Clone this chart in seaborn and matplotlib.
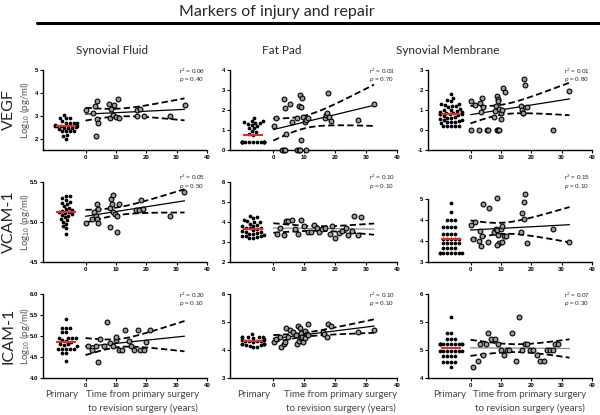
import warnings
import numpy as np
import matplotlib
matplotlib.use('Agg')
import matplotlib.pyplot as plt
import seaborn as sns
from matplotlib.lines import Line2D

warnings.filterwarnings('ignore')

# ---- data (log10 pg/ml) ----
# VEGF
vegf_sf_primary = [3.03, 2.89, 2.89, 2.89, 2.75, 2.67, 2.67, 2.67, 2.67, 2.6, 2.57, 2.57, 2.55,
                   2.55, 2.52, 2.46, 2.46, 2.46, 2.42, 2.31, 2.31, 2.31, 2.31, 2.15, 2.1, 2.0]
vegf_sf_years = [0, 2.5, 3, 3.8, 3.8, 4, 3.5, 7.8, 8.5, 9.3, 10.7, 8.2, 9.1, 9.9, 11, 17, 17.9, 17,
                 19.2, 27.8, 32.6]
vegf_sf_level = [3.27, 3.1, 3.43, 3.63, 2.86, 2.67, 2.1, 3.53, 3.31, 3.46, 3.74, 2.89, 3.03, 2.96,
                 2.91, 3.24, 3.31, 3.0, 3.0, 3.0, 3.46]

vegf_fp_primary = [1.6, 1.45, 1.45, 1.38, 1.35, 1.35, 1.3, 1.25, 1.2, 1.1, 1.1, 0.95, 0.9, 0.8, 0.75,
                   0.4, 0.4, 0.4, 0.4, 0.4, 0.4, 0.4, 0.4, 0.4, 0.4, 0.4, 0.4, 0.4, 0.4]
vegf_fp_years = [0.3, 0.8, 3.8, 3.6, 5.4, 4.0, 6.0, 7.6, 8.4, 9.0, 8.7, 9.2, 9.0, 9.5, 10.1, 10.5,
                 11.2, 16.6, 17.1, 17.4, 17.7, 18.0, 18.8, 27.5, 32.6,
                 2.7, 3.3, 3.8, 7.6, 8.2, 8.7, 10.5]
vegf_fp_level = [1.22, 1.58, 2.12, 2.53, 2.3, 0.8, 1.42, 1.58, 2.2, 2.17, 2.75, 2.58, 0.5, 1.67,
                 1.42, 1.5, 1.58, 1.58, 1.75, 1.87, 2.83, 1.67, 1.47, 1.5, 2.3,
                 0, 0, 0, 0, 0, 0, 0]

vegf_sm_primary = [1.8, 1.6, 1.5, 1.45, 1.3, 1.3, 1.25, 1.2, 1.2, 1.15, 1.05, 1.0, 1.0, 0.95, 0.9,
                   0.9, 0.85, 0.85, 0.8, 0.8, 0.8, 0.78, 0.75, 0.7, 0.65, 0.6, 0.6, 0.55, 0.5, 0.5,
                   0.45, 0.4, 0.4, 0.4, 0.35, 0.2, 0.2, 0.2, 0.2, 0.2]
vegf_sm_years = [0.3, 1.6, 3.0, 3.8, 3.6, 4.1, 8.7, 8.9, 9.0, 8.3, 9.3, 7.9, 7.6, 9.9, 10.2, 10.4,
                 10.6, 11.2, 16.7, 17.0, 17.4, 17.6, 17.8, 18.7, 17.2, 32.4,
                 0.3, 2.7, 5.5, 5.9, 8.7, 9.1, 9.5, 27.1]
vegf_sm_level = [1.44, 1.25, 1.36, 1.6, 0.9, 1.15, 1.72, 1.56, 1.44, 1.2, 1.07, 0.95, 0.67, 0.87,
                 0.57, 1.0, 2.1, 1.9, 1.2, 1.0, 0.87, 2.57, 2.26, 1.16, 0.84, 1.93,
                 0, 0, 0, 0, 0, 0, 0, 0]

# VCAM-1
vcam_sf_primary = [5.33, 5.33, 5.3, 5.28, 5.25, 5.24, 5.22, 5.2, 5.18, 5.16, 5.15, 5.14, 5.13,
                   5.12, 5.11, 5.1, 5.09, 5.08, 5.06, 5.04, 5.02, 5.0, 4.97, 4.95, 4.92, 4.85]
vcam_sf_years = [0, 2.2, 2.7, 3.3, 3.8, 3.8, 4.0, 4.0, 8.0, 8.2, 8.5, 8.7, 9.0, 9.2, 9.8, 10.3,
                 10.5, 10.9, 16.6, 17.7, 18.2, 19.0, 27.7, 32.5]
vcam_sf_level = [4.99, 5.04, 5.13, 5.08, 5.22, 5.04, 5.16, 4.99, 5.17, 4.94, 5.29, 5.23, 5.34,
                 5.125, 5.1, 5.08, 4.87, 5.22, 5.15, 5.15, 5.27, 5.16, 5.075, 5.37]

vcam_fp_primary = [4.3, 4.25, 4.2, 4.1, 4.05, 4.0, 3.98, 3.92, 3.85, 3.8, 3.78, 3.72, 3.7, 3.68,
                   3.65, 3.6, 3.55, 3.5, 3.48, 3.45, 3.42, 3.4, 3.35, 3.32, 3.3, 3.28, 3.25, 3.22,
                   3.2]
vcam_fp_years = [1.1, 2.2, 3.3, 4.0, 4.9, 6.2, 7.0, 8.1, 9.1, 10.0, 11.1, 12.2, 13.0, 14.1, 14.9,
                 15.8, 16.6, 18.2, 19.1, 20.1, 21.2, 22.3, 23.4, 24.2, 25.3, 26.1, 27.5, 28.5]
vcam_fp_level = [3.42, 3.7, 3.34, 4.03, 4.03, 4.11, 3.63, 3.42, 4.11, 3.79, 3.5, 3.5, 3.87, 3.71,
                 3.51, 3.63, 3.71, 3.42, 3.79, 3.22, 3.43, 3.55, 3.71, 3.34, 3.55, 4.31, 3.34,
                 4.23]

vcam_sm_primary = [4.86, 4.6, 4.33, 4.33, 4.33, 4.1, 4.1, 4.1, 4.1, 3.9, 3.9, 3.9, 3.9, 3.74,
                   3.74, 3.74, 3.74, 3.74, 3.59, 3.59, 3.59, 3.59, 3.59, 3.43, 3.43, 3.43, 3.43,
                   3.27, 3.27, 3.27, 3.27, 3.27, 3.27, 3.27, 3.27]
vcam_sm_years = [0.1, 1.6, 3.2, 3.9, 4.1, 6.2, 0.9, 2.8, 3.6, 5.7, 7.8, 8.3, 8.8, 8.6, 9.1, 9.4,
                 8.8, 10.0, 10.5, 10.9, 10.3, 11.6, 16.7, 17.0, 17.6, 17.6, 17.8, 18.7, 27.1,
                 32.4]
vcam_sm_level = [4.19, 4.26, 3.99, 3.83, 4.83, 4.72, 3.74, 3.66, 3.5, 3.62, 3.94, 4.06, 4.02,
                 5.02, 3.87, 3.59, 3.53, 4.04, 4.15, 3.83, 3.64, 3.83, 3.96, 4.54, 4.38, 4.91,
                 5.15, 3.59, 4.06, 3.62]

# ICAM-1
icam_sf_primary = [5.4, 5.2, 5.2, 5.2, 5.1, 5.1, 4.95, 4.95, 4.95, 4.95, 4.9, 4.88, 4.85, 4.8,
                   4.8, 4.78, 4.75, 4.7, 4.7, 4.7, 4.7, 4.7, 4.6, 4.6, 4.4]
icam_sf_years = [0.8, 2.2, 3.3, 4.0, 4.9, 6.2, 7.1, 8.2, 9.2, 10.0, 10.1, 10.9, 12.0, 13.1, 14.2,
                 15.1, 15.9, 17.2, 18.0, 19.2, 20.0, 21.1]
icam_sf_level = [4.76, 4.67, 4.75, 4.38, 4.94, 4.75, 5.34, 4.83, 4.75, 4.91, 4.98, 4.67, 4.67,
                 5.14, 4.87, 4.75, 4.67, 5.14, 4.67, 4.67, 4.85, 5.14]

icam_fp_primary = [4.57, 4.47, 4.47, 4.46, 4.45, 4.45, 4.44, 4.4, 4.37, 4.35, 4.33, 4.33, 4.33,
                   4.33, 4.3, 4.22, 4.22, 4.2, 4.2, 4.2, 4.18, 4.18, 4.15, 4.12, 4.1]
icam_fp_years = [0.3, 0.8, 2.2, 2.5, 3.3, 3.8, 4.0, 4.8, 5.4, 6.5, 7.5, 7.8, 8.1, 8.6, 8.3, 9.0,
                 9.1, 9.4, 9.7, 10.2, 10.4, 11.1, 10.8, 11.3, 16.1, 16.5, 17.3, 17.8, 18.7, 27.5,
                 32.6]
icam_fp_level = [4.28, 4.4, 4.48, 4.12, 4.2, 4.3, 4.78, 4.45, 4.72, 4.66, 4.54, 4.2, 4.84, 4.78,
                 4.33, 4.6, 4.42, 4.48, 4.3, 4.69, 4.42, 4.94, 4.57, 4.54, 4.66, 4.57, 4.45, 4.93,
                 4.84, 4.66, 4.72]

icam_sm_primary = [5.46, 5.06, 5.06, 4.93, 4.93, 4.93, 4.8, 4.8, 4.8, 4.8, 4.8, 4.8, 4.8, 4.8,
                   4.8, 4.8, 4.65, 4.65, 4.65, 4.65, 4.65, 4.65, 4.65, 4.53, 4.53, 4.53, 4.53,
                   4.39, 4.39, 4.39, 4.39, 4.27]
icam_sm_years = [0.9, 2.3, 3.0, 4.1, 5.2, 5.9, 6.8, 7.9, 9.0, 10.0, 11.1, 12.0, 12.7, 13.8, 14.9,
                 16.0, 17.0, 17.8, 18.7, 19.7, 20.6, 21.9, 23.0, 24.1, 25.1, 26.2, 27.1, 27.8,
                 28.9]
icam_sm_level = [4.27, 4.41, 4.8, 4.54, 4.8, 5.07, 4.93, 4.93, 4.8, 4.67, 4.54, 4.67, 4.67, 5.07,
                 4.41, 5.46, 4.67, 4.8, 4.8, 4.67, 4.67, 4.54, 4.41, 4.41, 4.67, 4.67, 4.67, 4.8,
                 4.8]

tissues = ['Synovial Fluid', 'Fat Pad', 'Synovial Membrane']
markers = ['VEGF', 'VCAM-1', 'ICAM-1']
r2_values = [['0.06', '0.03', '0.01'], ['0.05', '0.10', '0.15'], ['0.20', '0.10', '0.07']]
p_values = [['0.40', '0.70', '0.80'], ['0.50', '0.10', '0.10'], ['0.10', '0.10', '0.30']]

panels = [
    [(vegf_sf_primary, vegf_sf_years, vegf_sf_level),
     (vegf_fp_primary, vegf_fp_years, vegf_fp_level),
     (vegf_sm_primary, vegf_sm_years, vegf_sm_level)],
    [(vcam_sf_primary, vcam_sf_years, vcam_sf_level),
     (vcam_fp_primary, vcam_fp_years, vcam_fp_level),
     (vcam_sm_primary, vcam_sm_years, vcam_sm_level)],
    [(icam_sf_primary, icam_sf_years, icam_sf_level),
     (icam_fp_primary, icam_fp_years, icam_fp_level),
     (icam_sm_primary, icam_sm_years, icam_sm_level)],
]

# axis settings per panel: ylim, ticks, tick labels
yaxes = [
    [((1.5, 5), [2, 3, 4, 5], ['2', '3', '4', '5']),
     ((0, 4), [0, 1, 2, 3, 4], ['0', '1', '2', '3', '4']),
     ((-1, 3), [-1, 0, 1, 2, 3], ['-1', '0', '1', '2', '3'])],
    [((4.5, 5.5), [4.5, 5.0, 5.5], ['4.5', '5.0', '5.5']),
     ((2, 6), [2, 3, 4, 5, 6], ['2', '3', '4', '5', '6']),
     ((3, 5), [3, 11 / 3, 13 / 3, 5], ['3', '4', '4', '5'])],
    [((4.0, 6.0), [4.0, 4.5, 5.0, 5.5, 6.0], ['4.0', '4.5', '5.0', '5.5', '6.0']),
     ((3, 6), [3, 4, 5, 6], ['3', '4', '5', '6']),
     ((4, 6), [4, 14 / 3, 16 / 3, 6], ['4', '5', '5', '6'])],
]
fit_colors = [['black', 'black', 'black'], ['black', '#8c8c8c', 'black'],
              ['black', 'black', '#8c8c8c']]

# ---- layout in pixels ----
W, H = 600, 415
cols_px = [(43, 207), (230, 397), (428, 592)]
rows_px = [(70, 150), (182, 262), (294, 378)]
X_MIN, X_MAX = -14, 40
SWARM_C, SWARM_S = -6.5, 9.0
TICK_FONT = dict(family='Liberation Sans', fontweight='bold', fontsize=4.3)

sns.set_theme(style='ticks')
plt.rcParams['font.family'] = ['Lato', 'DejaVu Sans']
plt.rcParams['mathtext.fontset'] = 'custom'
plt.rcParams['mathtext.rm'] = 'Liberation Sans'
plt.rcParams['mathtext.it'] = 'Liberation Sans:italic'

fig = plt.figure(figsize=(6.0, 4.15), dpi=100)


def fig_xy(x, y):
    return x / W, 1 - y / H


def draw_panel(ax, primary, years, level, ylim, yticks, ylabels, fit_color):
    ax.set_xlim(X_MIN, X_MAX)
    ax.set_ylim(*ylim)

    # revision cases vs time
    sns.scatterplot(x=years, y=level, ax=ax, s=12, color='#9a9a9a', edgecolor='black',
                    linewidth=0.8, clip_on=False, zorder=4)

    # linear fit with 95% confidence band
    xa, ya = np.asarray(years, float), np.asarray(level, float)
    slope, icpt = np.polyfit(xa, ya, 1)
    n = len(xa)
    resid = ya - (icpt + slope * xa)
    s_err = np.sqrt((resid ** 2).sum() / (n - 2))
    sxx = ((xa - xa.mean()) ** 2).sum()
    tcrit = 1.96 + 2.4 / (n - 2)
    xs = np.linspace(0, 32.6, 80)
    fit = icpt + slope * xs
    half = tcrit * s_err * np.sqrt(1 / n + (xs - xa.mean()) ** 2 / sxx)
    ax.plot(xs, fit, color=fit_color, lw=0.9, zorder=3)
    for band in (fit + half, fit - half):
        ax.plot(xs, band, color='black', lw=1.3, dashes=(3.5, 1.8), zorder=3)

    ax.set_xticks([0, 10, 20, 30, 40], ['0', '10', '20', '30', '40'], **TICK_FONT)
    ax.set_yticks(yticks, ylabels, **TICK_FONT)
    ax.tick_params(length=2.2, width=0.8, pad=1.2, colors='black')
    sns.despine(ax=ax)
    for side in ('left', 'bottom'):
        ax.spines[side].set_linewidth(1.0)
        ax.spines[side].set_color('black')
    ax.set_xlabel('')
    ax.set_ylabel('')

    # primary group: beeswarm on a twin axis scaled to sit left of x = 0
    ax2 = ax.twiny()
    sns.swarmplot(x=['Primary'] * len(primary), y=primary, ax=ax2, color='black', size=2.7)
    ax2.hlines(np.median(primary), -0.36, 0.36, color='#dd2c2c', lw=1.5, zorder=5)
    ax2.set_xlim((X_MIN - SWARM_C) / SWARM_S, (X_MAX - SWARM_C) / SWARM_S)
    ax2.set_ylim(*ylim)
    ax2.set_xticks([])
    ax2.set_xlabel('')
    ax2.set_ylabel('')
    for sp in ax2.spines.values():
        sp.set_visible(False)


for r in range(3):
    for c in range(3):
        left, right = cols_px[c]
        top, bottom = rows_px[r]
        if r == 1 and c == 2:
            top = 199
        ax = fig.add_axes([left / W, 1 - bottom / H, (right - left) / W, (bottom - top) / H])
        primary, years, level = panels[r][c]
        ylim, yticks, ylabels = yaxes[r][c]
        draw_panel(ax, primary, years, level, ylim, yticks, ylabels, fit_colors[r][c])

        tx = left + 0.83 * (right - left)
        ty_r2, ty_p = [(71, 79), (177, 186), (295, 303)][r]
        fig.text(*fig_xy(tx, ty_r2), f'r$^2$ = {r2_values[r][c]}', fontsize=4.6,
                 family='Liberation Sans', va='center')
        fig.text(*fig_xy(tx, ty_p), f'$p$ = {p_values[r][c]}', fontsize=4.6,
                 family='Liberation Sans', va='center')

# titles
fig.text(*fig_xy(277, 12), 'Markers of injury and repair', fontsize=11.5, ha='center',
         va='center')
fig.add_artist(Line2D([37 / W, 1.0], [1 - 23 / H, 1 - 23 / H], color='black', lw=2.2))
for x_c, name in zip([112, 282, 448], tissues):
    fig.text(*fig_xy(x_c, 50), name, fontsize=8.5, ha='center', va='center')

# row labels
for (top, bottom), name in zip(rows_px, markers):
    yc = (top + bottom) / 2
    fig.text(*fig_xy(8.5, yc), name, fontsize=11.5, rotation=90, ha='center', va='center')
    fig.text(*fig_xy(24.5, yc), 'Log$_{10}$ (pg/ml)', fontsize=7, rotation=90, ha='center',
             va='center', color='#555555')

# bottom labels
for x_p, x_t in zip([62, 254, 450], [143, 341, 530]):
    fig.text(*fig_xy(x_p, 394), 'Primary', fontsize=7, ha='center', va='center',
             color='#444444')
    fig.text(*fig_xy(x_t, 394), 'Time from primary surgery', fontsize=7, ha='center',
             va='center', color='#444444')
    fig.text(*fig_xy(x_t, 408), 'to revision surgery (years)', fontsize=7, ha='center',
             va='center', color='#444444')

fig.savefig('out.png', dpi=100)
